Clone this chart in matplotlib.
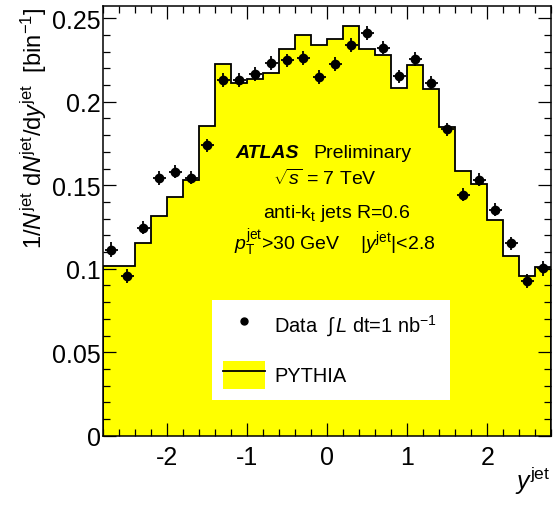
import matplotlib
matplotlib.use("Agg")
import matplotlib.pyplot as plt
import numpy as np
from matplotlib.lines import Line2D
from matplotlib.patches import Patch
from matplotlib.ticker import MultipleLocator, FormatStrFormatter

plt.rcParams['font.family'] = 'Liberation Sans'
plt.rcParams['mathtext.fontset'] = 'custom'
plt.rcParams['mathtext.rm'] = 'Liberation Sans'
plt.rcParams['mathtext.it'] = 'Liberation Sans:italic'
plt.rcParams['mathtext.bf'] = 'Liberation Sans:bold'
plt.rcParams['axes.unicode_minus'] = False

# rapidity bins, width 0.2 from -2.8 to 2.8
bin_edges = np.round(np.arange(-2.8, 2.81, 0.2), 2)
bin_centers = 0.5 * (bin_edges[:-1] + bin_edges[1:])

# PYTHIA prediction (histogram)
pythia = [0.1018, 0.1018, 0.1152, 0.1316, 0.1432, 0.1532, 0.1857, 0.2225,
          0.2113, 0.2133, 0.2173, 0.2316, 0.2398, 0.2338, 0.2378, 0.2454,
          0.2314, 0.2280, 0.2085, 0.2220, 0.2079, 0.1849, 0.1583, 0.1508,
          0.1294, 0.1074, 0.0954, 0.1008]

# data points
data = [0.1114, 0.0957, 0.1246, 0.1544, 0.1582, 0.1546, 0.1739, 0.2131,
        0.2131, 0.2166, 0.2232, 0.2248, 0.2262, 0.2148, 0.2226, 0.2340,
        0.2412, 0.2324, 0.2151, 0.2256, 0.2115, 0.1835, 0.1444, 0.1534,
        0.1354, 0.1152, 0.0924, 0.1002]
data_err = [0.0045, 0.0042, 0.0040, 0.0040, 0.0040, 0.0040, 0.0040, 0.0040,
            0.0040, 0.0040, 0.0040, 0.0040, 0.0040, 0.0040, 0.0040, 0.0040,
            0.0040, 0.0040, 0.0040, 0.0040, 0.0040, 0.0040, 0.0040, 0.0040,
            0.0040, 0.0040, 0.0042, 0.0045]
x_halfwidth = 0.08

fig = plt.figure(figsize=(5.54, 5.10), dpi=100)
ax = fig.add_axes([0.1865, 0.1437, 0.8086, 0.8432])

ax.stairs(pythia, bin_edges, fill=True, color='#ffff00', zorder=1)
ax.stairs(pythia, bin_edges, color='black', lw=1.3, zorder=2)
ax.errorbar(bin_centers, data, xerr=x_halfwidth, yerr=data_err, fmt='o',
            color='black', ms=6, elinewidth=1.3, capsize=0, zorder=3)

ax.set_xlim(-2.8, 2.8)
ax.set_ylim(0, 0.2575)
ax.xaxis.set_major_locator(MultipleLocator(1))
ax.xaxis.set_minor_locator(MultipleLocator(0.2))
ax.yaxis.set_major_locator(MultipleLocator(0.05))
ax.yaxis.set_minor_locator(MultipleLocator(0.01))
ax.yaxis.set_major_formatter(FormatStrFormatter('%g'))
ax.tick_params(which='both', direction='in', top=True, right=True, width=0.9)
ax.tick_params(which='major', length=9.5, labelsize=18)
ax.tick_params(which='minor', length=4.8)
ax.tick_params(axis='x', pad=7)
ax.tick_params(axis='y', pad=2)
for sp in ax.spines.values():
    sp.set_linewidth(1.1)

# labels
fig.text(42 / 554, 1 - 7 / 510,
         r"1/$N^\mathrm{jet}$ d$N^\mathrm{jet}$/d$y^\mathrm{jet}$  [bin$^{-1}$]",
         rotation=90, rotation_mode='anchor', ha='right', va='baseline',
         fontsize=17)
fig.text(550 / 554, 1 - 490 / 510, r"$y^\mathrm{jet}$", ha='right',
         va='baseline', fontsize=18)

# annotations
ax.text(-1.154, 0.1668, "ATLAS", fontweight='bold', fontstyle='italic',
        fontsize=14, ha='left', va='baseline')
ax.text(-0.179, 0.1668, "Preliminary", fontsize=14, ha='left', va='baseline')
ax.text(-0.035, 0.1505, r"$\sqrt{s}$ = 7 TeV", fontsize=14, ha='center',
        va='baseline')
ax.text(0.12, 0.1311, r"anti-k$_\mathrm{t}$ jets R=0.6", fontsize=14,
        ha='center', va='baseline')
ax.text(0.096, 0.1115,
        r"$p_\mathrm{T}^\mathrm{jet}$>30 GeV    |$y^\mathrm{jet}$|<2.8",
        fontsize=14, ha='center', va='baseline')

# legend
h_data = Line2D([], [], marker='o', ls='none', color='black', ms=5)
h_mc = (Patch(facecolor='#ffff00', edgecolor='none'),
        Line2D([], [], color='black', lw=1.3))
leg = ax.legend([h_data, h_mc],
                [r"Data  $\int\,L$ dt=1 nb$^{-1}$", "PYTHIA"],
                loc='upper left', bbox_to_anchor=(0.2426, 0.0873, 0.5314, 0.2277),
                mode='expand', fancybox=False, framealpha=1, fontsize=14.4,
                handlelength=2.1, handleheight=1.75, handletextpad=0.45,
                labelspacing=1.1, borderpad=0.55, borderaxespad=0)
leg.get_frame().set_linewidth(0)

fig.savefig("out.png", dpi=100)
